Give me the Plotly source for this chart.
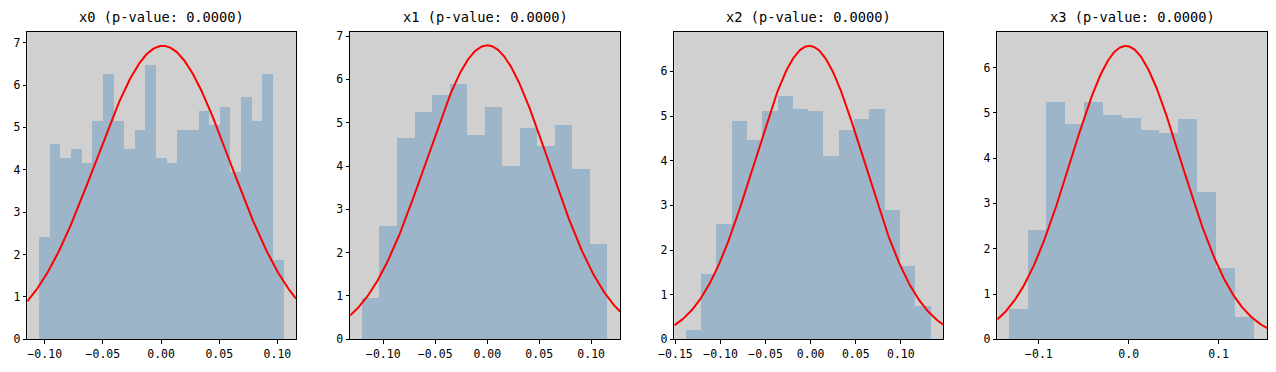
import numpy as np
import plotly.graph_objects as go

# ---- data ----
titles = ["x0 (p-value: 0.0000)", "x1 (p-value: 0.0000)",
          "x2 (p-value: 0.0000)", "x3 (p-value: 0.0000)"]

x0_start, x0_width = -0.1046, 0.00914
x0_density = [2.41, 4.61, 4.28, 4.49, 4.18, 5.15, 6.26, 5.15, 4.49, 4.94, 6.47, 4.28,
              4.18, 4.94, 4.94, 5.39, 5.06, 5.48, 3.95, 5.72, 5.15, 6.26, 1.87]

x1_start, x1_width = -0.1205, 0.01686
x1_density = [0.95, 2.62, 4.65, 5.25, 5.65, 5.89, 4.72, 5.36, 4.00, 4.88, 4.46, 4.95,
              3.93, 2.20]

x2_start, x2_width = -0.1384, 0.01699
x2_density = [0.22, 1.48, 2.60, 4.89, 4.48, 5.13, 5.46, 5.17, 5.13, 4.12, 4.70, 4.95,
              5.17, 2.90, 1.64, 0.76]

x3_start, x3_width = -0.1333, 0.02098
x3_density = [0.67, 2.43, 5.24, 4.77, 5.24, 4.95, 4.90, 4.62, 4.57, 4.86, 3.25, 1.57,
              0.51]

# fitted normal parameters (mean, std)
fit_mu = [0.0015, 0.0000, -0.0015, -0.0033]
fit_sigma = [0.0576, 0.0588, 0.0607, 0.0616]

x_ranges = [(-0.115, 0.116), (-0.132, 0.128), (-0.1513, 0.1471), (-0.1463, 0.1543)]
y_max = [7.26, 7.10, 6.89, 6.79]
x_tickvals = [[-0.10, -0.05, 0.00, 0.05, 0.10],
              [-0.10, -0.05, 0.00, 0.05, 0.10],
              [-0.15, -0.10, -0.05, 0.00, 0.05, 0.10],
              [-0.1, 0.0, 0.1]]
x_tickfmt = [".2f", ".2f", ".2f", ".1f"]
y_tickvals = [list(range(0, 8)), list(range(0, 8)), list(range(0, 7)), list(range(0, 7))]

starts = [x0_start, x1_start, x2_start, x3_start]
widths = [x0_width, x1_width, x2_width, x3_width]
densities = [x0_density, x1_density, x2_density, x3_density]

# ---- layout geometry (page pixels; page body has an 8px margin) ----
OFF = 8
W, H = 1276 - 2 * OFF, 372 - 2 * OFF
x_domains = [(27.3, 296.0), (350.0, 620.3), (674.3, 943.3), (997.3, 1267.3)]
y_bottom, y_top = 339.3, 31.7
y_dom = (1 - (y_bottom - OFF) / H, 1 - (y_top - OFF) / H)

FONT = "DejaVu Sans Mono"
fig = go.Figure()
layout = dict(
    width=W, height=H,
    margin=dict(l=0, r=0, t=0, b=0, autoexpand=False),
    paper_bgcolor="white",
    showlegend=False,
    font=dict(family=FONT, color="black", size=11),
    annotations=[],
    shapes=[],
)

for i in range(4):
    ax = "" if i == 0 else str(i + 1)
    n = len(densities[i])
    centers = [starts[i] + (k + 0.5) * widths[i] for k in range(n)]
    fig.add_trace(go.Bar(
        x=centers, y=densities[i], width=[widths[i]] * n,
        marker=dict(color="#9db5c8", line=dict(width=0)),
        xaxis="x" + ax, yaxis="y" + ax, hoverinfo="skip",
    ))
    xs = np.linspace(x_ranges[i][0], x_ranges[i][1], 300)
    mu, s = fit_mu[i], fit_sigma[i]
    pdf = np.exp(-0.5 * ((xs - mu) / s) ** 2) / (s * np.sqrt(2 * np.pi))
    fig.add_trace(go.Scatter(
        x=xs, y=pdf, mode="lines", line=dict(color="red", width=2),
        xaxis="x" + ax, yaxis="y" + ax, hoverinfo="skip",
    ))
    d0, d1 = x_domains[i][0] - OFF, x_domains[i][1] - OFF
    layout["xaxis" + ax] = dict(
        domain=[d0 / W, d1 / W], range=list(x_ranges[i]),
        anchor="y" + ax, showgrid=False, zeroline=False, automargin=False,
        showline=True, mirror=True, linecolor="black", linewidth=1,
        ticks="outside", ticklen=3.5, tickcolor="black",
        tickvals=x_tickvals[i], tickformat=x_tickfmt[i],
        tickfont=dict(family=FONT, size=11.5),
    )
    layout["yaxis" + ax] = dict(
        domain=list(y_dom), range=[0, y_max[i]],
        anchor="x" + ax, showgrid=False, zeroline=False, automargin=False,
        showline=True, mirror=True, linecolor="black", linewidth=1,
        ticks="outside", ticklen=3.5, tickcolor="black",
        tickvals=y_tickvals[i],
        tickfont=dict(family=FONT, size=11.5),
    )
    layout["annotations"].append(dict(
        text=titles[i], xref="paper", yref="paper",
        x=(d0 + d1) / 2 / W, y=1 - (17 - OFF) / H, xanchor="center", yanchor="middle",
        showarrow=False, font=dict(family=FONT, size=13.7, color="black"),
    ))
    layout["shapes"].append(dict(
        type="rect", xref="paper", yref="paper", layer="below",
        x0=d0 / W, x1=d1 / W, y0=y_dom[0], y1=y_dom[1],
        fillcolor="#d0d0d0", line=dict(width=0),
    ))

layout["plot_bgcolor"] = "white"
layout["bargap"] = 0
fig.update_layout(**layout)
fig.write_html("out.html")
